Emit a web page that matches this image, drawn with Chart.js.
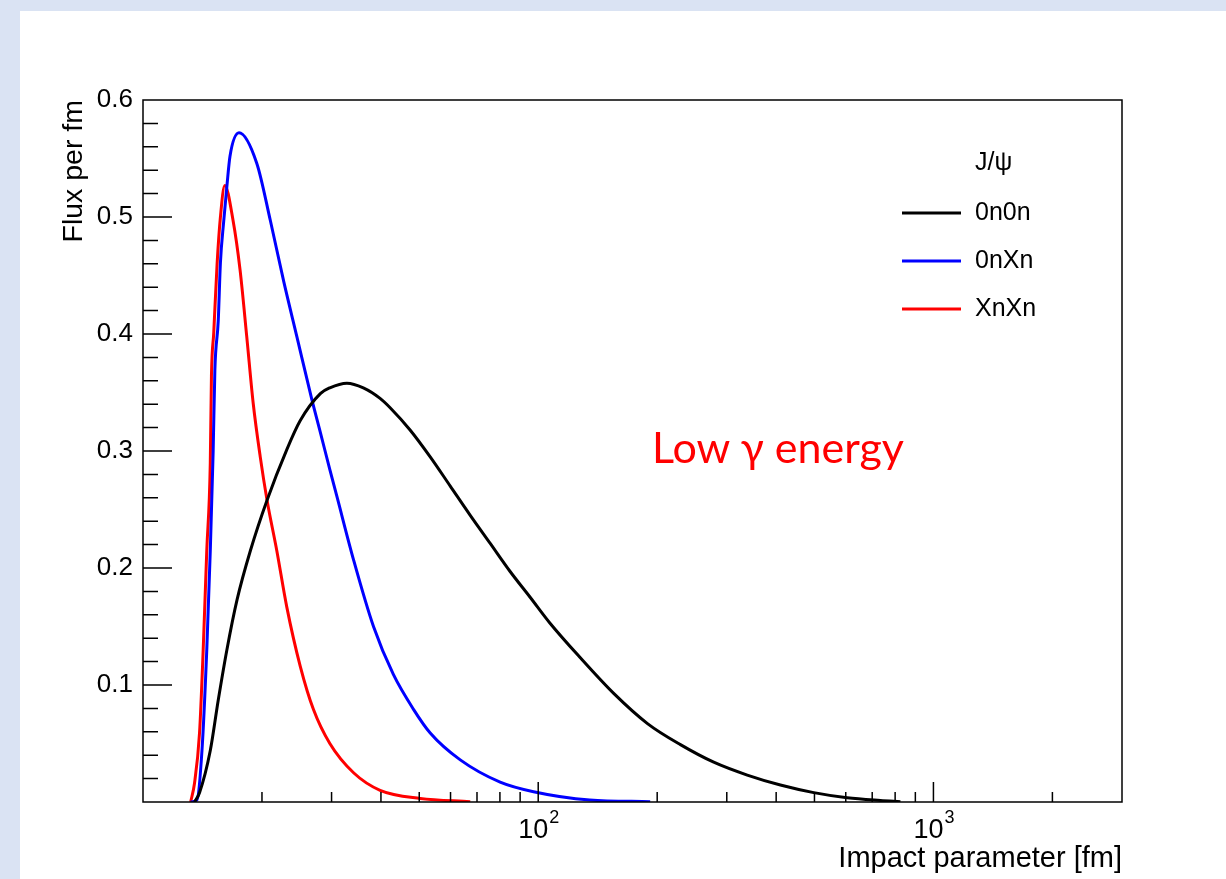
<!DOCTYPE html>
<html>
<head>
<meta charset="utf-8">
<script src="https://cdn.jsdelivr.net/npm/chart.js@4.4.0/dist/chart.umd.min.js"></script>
<style>
body { margin: 0; background: #dae3f3; width: 1226px; height: 879px; overflow: hidden; position: relative; }
#panel { position: absolute; left: 20px; top: 11px; width: 1206px; height: 868px; background: #fff; }
#note { position: absolute; left: 652px; top: 425px; color: #ff0000; font-family: Lato, "Open Sans", sans-serif; font-size: 43px; line-height: 43px; white-space: nowrap; }
</style>
</head>
<body>
<div id="panel"><canvas id="Chart_1" width="1206" height="868"></canvas></div>
<div id="note">Low γ energy</div>
<script>
// impact parameter b [fm] and flux per fm
var b00 = [13.5, 13.9, 14.8, 15.5, 16.3, 17.3, 18.7, 20.6, 23.1, 25.0, 28.1, 29.7, 32.8, 36.1, 39.8, 42.2, 47.4, 53.3, 59.9, 67.3, 75.6, 84.9, 95.4, 107, 128, 155, 189, 229, 278, 338, 410, 498, 605, 734, 825];
var f00 = [0, 0.008, 0.044, 0.087, 0.130, 0.173, 0.215, 0.258, 0.301, 0.326, 0.349, 0.354, 0.358, 0.354, 0.345, 0.337, 0.318, 0.295, 0.270, 0.245, 0.221, 0.197, 0.175, 0.153, 0.123, 0.093, 0.067, 0.049, 0.034, 0.023, 0.0145, 0.0080, 0.0036, 0.0013, 0.0003];

var b0X = [13.2, 13.7, 14.1, 14.5, 14.8, 15.05, 15.2, 15.5, 15.7, 16.0, 16.3, 16.6, 17.5, 19.4, 21.0, 22.7, 24.5, 26.7, 28.1, 29.7, 30.9, 34.1, 38.3, 43.0, 48.4, 53.3, 63.5, 80.1, 97.3, 135, 192];
var f0X = [0, 0.002, 0.044, 0.130, 0.215, 0.300, 0.369, 0.411, 0.461, 0.496, 0.526, 0.552, 0.572, 0.546, 0.497, 0.445, 0.398, 0.345, 0.316, 0.284, 0.262, 0.207, 0.150, 0.109, 0.079, 0.059, 0.036, 0.017, 0.0088, 0.0017, 0.0003];

var bXX = [13.2, 13.5, 13.9, 14.2, 14.5, 14.8, 14.9, 15.1, 15.4, 15.7, 16.1, 16.9, 17.6, 18.3, 19.0, 19.8, 20.6, 21.8, 23.1, 25.0, 27.0, 29.7, 34.1, 39.8, 50.3, 67.3];
var fXX = [0, 0.016, 0.059, 0.130, 0.215, 0.290, 0.364, 0.401, 0.460, 0.500, 0.527, 0.497, 0.455, 0.398, 0.341, 0.295, 0.258, 0.215, 0.167, 0.116, 0.079, 0.050, 0.025, 0.010, 0.003, 0.0003];

var seriesNames = ['0n0n', '0nXn', 'XnXn'];
var legendTitle = 'J/ψ';

var yTicks = [0.1, 0.2, 0.3, 0.4, 0.5, 0.6];
var xMajor = [100, 1000];
var xTickBase = '10';
var xTickExp = ['2', '3'];
var xMinor = [20, 30, 40, 50, 60, 70, 80, 90, 200, 300, 400, 500, 600, 700, 800, 900, 2000];

var font = '"Liberation Sans", Arial, sans-serif';

function pts(bs, fs) {
    return bs.map(function (b, i) { return { x: b, y: fs[i] }; });
}

// ROOT style frame, inward ticks, 10^n labels and legend
var frame = {
    id: 'frame',
    afterDraw: function (chart) {
        var c = chart.ctx, a = chart.chartArea;
        var sx = chart.scales.x, sy = chart.scales.y;
        c.save();
        c.strokeStyle = '#000';
        c.lineWidth = 1.5;
        c.strokeRect(a.left, a.top, a.right - a.left, a.bottom - a.top);
        c.beginPath();
        for (var i = 1; i < 30; i++) {
            var p = sy.getPixelForValue(i * 0.02);
            var len = (i % 5 == 0) ? 29 : 15;
            c.moveTo(a.left, p);
            c.lineTo(a.left + len, p);
        }
        xMinor.forEach(function (v) {
            var p = sx.getPixelForValue(v);
            c.moveTo(p, a.bottom);
            c.lineTo(p, a.bottom - 10);
        });
        xMajor.forEach(function (v) {
            var p = sx.getPixelForValue(v);
            c.moveTo(p, a.bottom);
            c.lineTo(p, a.bottom - 20);
        });
        c.stroke();

        c.fillStyle = '#000';
        c.textBaseline = 'alphabetic';
        xMajor.forEach(function (v, i) {
            var p = sx.getPixelForValue(v);
            c.font = '27px ' + font;
            c.textAlign = 'right';
            c.fillText(xTickBase, p + 10, a.bottom + 36);
            c.font = '18px ' + font;
            c.textAlign = 'left';
            c.fillText(xTickExp[i], p + 11, a.bottom + 21);
        });

        c.font = '25px ' + font;
        c.textAlign = 'left';
        c.textBaseline = 'middle';
        c.fillText(legendTitle, 955, 152);
        chart.data.datasets.forEach(function (d, i) {
            var yy = 202 + i * 48;
            c.beginPath();
            c.strokeStyle = d.borderColor;
            c.lineWidth = 3;
            c.moveTo(882, yy);
            c.lineTo(941, yy);
            c.stroke();
            c.fillText(d.label, 955, yy);
        });
        c.restore();
    }
};

var ctx = document.getElementById('Chart_1');
var chart = new Chart(ctx, {
    type: 'line',
    data: {
        datasets: [{
            label: seriesNames[0],
            borderColor: '#000000',
            data: pts(b00, f00)
        }, {
            label: seriesNames[1],
            borderColor: '#0000ff',
            data: pts(b0X, f0X)
        }, {
            label: seriesNames[2],
            borderColor: '#ff0000',
            data: pts(bXX, fXX)
        }]
    },
    options: {
        responsive: false,
        animation: false,
        layout: { padding: { left: 0, top: 89, right: 104, bottom: 0 } },
        elements: {
            point: { radius: 0 },
            line: { borderWidth: 3, cubicInterpolationMode: 'monotone' }
        },
        plugins: {
            legend: { display: false },
            tooltip: { enabled: false }
        },
        scales: {
            x: {
                type: 'logarithmic',
                min: 10,
                max: 3000,
                grid: { display: false, drawTicks: false },
                border: { display: false },
                afterBuildTicks: function (s) {
                    s.ticks = xMajor.map(function (v) { return { value: v }; });
                },
                ticks: {
                    autoSkip: false,
                    maxRotation: 0,
                    color: 'rgba(0,0,0,0)',
                    font: { family: font, size: 25 },
                    callback: function () { return ''; }
                },
                title: {
                    display: true,
                    text: 'Impact parameter [fm]',
                    align: 'end',
                    color: '#000',
                    font: { family: font, size: 29 },
                    padding: { top: 0, bottom: 3 }
                },
                afterFit: function (s) { s.height = 77; }
            },
            y: {
                min: 0,
                max: 0.6,
                grid: { display: false, drawTicks: false },
                border: { display: false },
                afterBuildTicks: function (s) {
                    s.ticks = yTicks.map(function (v) { return { value: v }; });
                },
                ticks: {
                    padding: 10,
                    color: '#000',
                    font: { family: font, size: 26 },
                    callback: function (v) { return v.toFixed(1); }
                },
                title: {
                    display: true,
                    text: 'Flux per fm',
                    align: 'end',
                    color: '#000',
                    font: { family: font, size: 28.5 },
                    padding: { top: 37, bottom: 0 }
                },
                afterFit: function (s) { s.width = 123; }
            }
        }
    },
    plugins: [frame]
});
</script>
</body>
</html>
